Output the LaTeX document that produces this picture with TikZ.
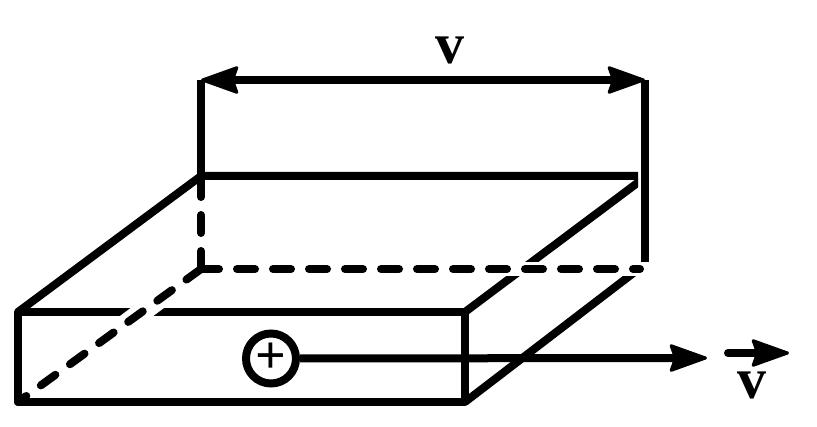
\documentclass[tikz,border=0pt]{standalone}
\usepackage{fontspec}
\setmainfont{Liberation Serif}
\usetikzlibrary{arrows.meta}
\tikzset{
  edge/.style={line width=8pt,line cap=butt,line join=round},
  hidden/.style={line width=8pt,line cap=round,dash pattern=on 18pt off 18pt},
  halo/.style={line width=#1,white,line cap=butt},
  bigtip/.tip={Stealth[length=41pt,width=29pt,inset=5pt,round,line width=3pt]},
  label/.style={font=\bfseries\fontsize{58pt}{58pt}\selectfont,inner sep=0pt,anchor=center},
  charge/.style={circle,draw,line width=8pt,fill=white,minimum size=50pt,inner sep=0pt,font=\bfseries\fontsize{54pt}{54pt}\selectfont}
}
\begin{document}
\begin{tikzpicture}[x=1pt,y=-1pt]
\useasboundingbox (0,0) rectangle (817,427);
% corners
\coordinate (FTL) at (18,312);
\coordinate (FTR) at (465,312);
\coordinate (FBL) at (18,402);
\coordinate (FBR) at (465,402);
\coordinate (BTL) at (201,176);
\coordinate (BTR) at (638,176);
\coordinate (BBL) at (201,269);
\coordinate (BBR) at (645,269);
\coordinate (AL) at (201,80);
\coordinate (AR) at (645,80);
\coordinate (UD) at (640,181);
\coordinate (LD) at (636,271);
\coordinate (H1) at (118,330);
\coordinate (H2) at (166,294);
\coordinate (BS) at (240,269);
\coordinate (BE) at (665,269);
\coordinate (HE) at (640,269);
\coordinate (T1) at (707,358);
\coordinate (S0) at (728,353);
\coordinate (S1) at (789,353);
% solid edges
\draw[edge] (FTR) -- (FTL) -- (FBL) -- (FBR) -- (FTR);
\draw[edge] (FTL) -- (BTL) -- (BTR);
\begin{scope}
  \clip (400,150) rectangle (638,420);
  \draw[edge] (FTR) -- (UD);
  \draw[edge] (FBR) -- (LD);
\end{scope}
\draw[edge] (AR) -- (BBR);
\draw[edge] (AL) -- (BTL);
% white gaps where hidden edges pass in front
\draw[halo=14pt] (BS) -- (BE);
\draw[halo=20pt] (H1) -- (H2);
% hidden edges
\draw[hidden] (BBL) -- (HE);
\draw[hidden] (BBL) -- (BTL);
\draw[hidden] (BBL) -- (FBL);
% width arrow
\draw[edge,{bigtip}-{bigtip}] (AL) -- (AR);
% charge and velocity
\node[charge] (Q) at (271,358.5) {+};
\draw[edge,-{bigtip}] (Q) -- (T1);
\draw[edge,line cap=round,-{bigtip}] (S0) -- (S1);
\node[label] (VT) at (450,50) {v};
\node[label] (VB) at (752,385) {v};
\end{tikzpicture}
\end{document}
